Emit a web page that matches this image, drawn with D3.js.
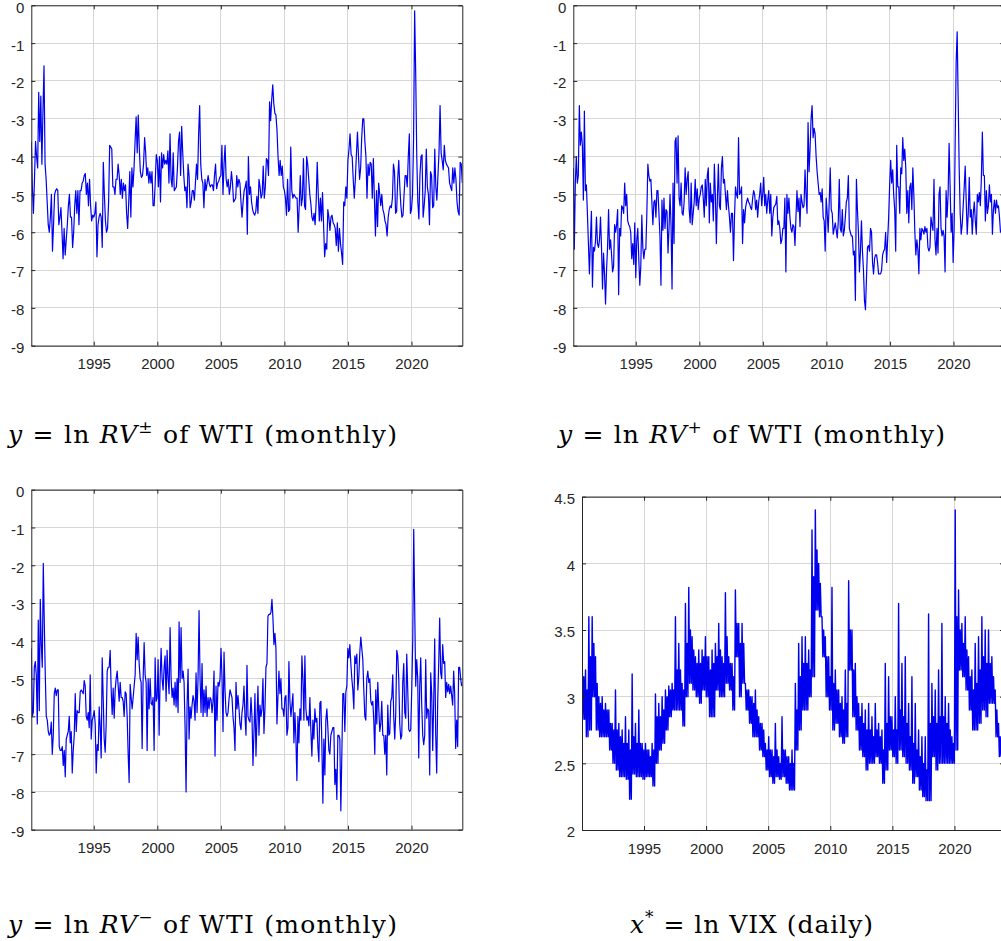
<!DOCTYPE html>
<html><head><meta charset="utf-8">
<script src="https://cdn.jsdelivr.net/npm/d3@7"></script>
<style>body{margin:0;background:#fff;} svg{display:block;}</style>
</head><body><svg id="c" width="1001" height="941"></svg>
<script>
// ---------- tick labels ----------
const xTickYears = [1995, 2000, 2005, 2010, 2015, 2020];
const yTicksWTI = [0, -1, -2, -3, -4, -5, -6, -7, -8, -9];
const yTicksVIX = [2, 2.5, 3, 3.5, 4, 4.5];

// ---------- ln RV± of WTI (monthly, Jan 1990 .. Dec 2023) ----------
const rvAll = [
 -3.6,-4.8,-5.5,-4.6,-3.6,-4.0,-4.3,-2.3,-3.6,-2.4,-4.2,-2.8,
 -1.6,-4.2,-4.6,-5.2,-5.8,-6.0,-5.6,-5.0,-6.5,-5.8,-5.0,-4.9,
 -4.85,-4.9,-5.8,-5.6,-5.35,-6.0,-6.7,-5.9,-6.6,-6.2,-5.8,-5.3,
 -5.0,-5.6,-5.6,-6.4,-6.0,-5.3,-4.9,-5.5,-4.9,-5.8,-4.9,-4.9,
 -4.7,-4.65,-4.5,-4.45,-5.0,-4.7,-5.3,-4.6,-5.3,-5.7,-5.55,-5.6,
 -5.5,-5.2,-6.65,-5.8,-5.6,-5.5,-5.6,-6.4,-4.15,-5.0,-5.7,-6.0,
 -5.9,-5.2,-3.7,-3.75,-3.8,-4.8,-4.8,-5.0,-4.6,-4.6,-4.2,-4.5,
 -5.0,-4.6,-5.1,-4.7,-4.9,-4.75,-5.5,-5.9,-5.2,-4.4,-5.6,-4.3,
 -4.8,-4.3,-3.6,-2.95,-3.9,-2.9,-3.8,-4.4,-4.55,-4.5,-4.2,-3.5,
 -3.9,-4.5,-4.3,-4.7,-4.4,-4.7,-4.4,-5.3,-5.3,-4.7,-3.95,-4.1,
 -4.8,-4.0,-5.2,-3.9,-4.3,-3.95,-4.2,-4.1,-4.2,-3.85,-4.7,-3.4,
 -4.6,-4.8,-3.9,-4.9,-4.85,-4.8,-4.3,-3.6,-3.35,-4.5,-3.2,-3.9,
 -4.5,-4.9,-4.8,-5.35,-4.2,-4.5,-5.35,-5.2,-4.9,-4.9,-5.15,-4.7,
 -4.2,-4.6,-3.4,-2.65,-4.2,-4.6,-4.7,-5.35,-4.6,-4.9,-4.7,-4.5,
 -4.7,-4.8,-4.75,-4.75,-4.9,-4.5,-4.2,-4.85,-4.7,-4.65,-4.55,-4.5,
 -3.7,-5.0,-4.2,-3.7,-4.6,-4.8,-4.6,-5.0,-4.8,-4.4,-4.7,-5.2,
 -5.15,-5.1,-4.5,-4.8,-4.6,-4.7,-5.2,-5.6,-5.2,-4.9,-4.8,-4.65,
 -6.05,-4.0,-5.0,-4.8,-5.2,-5.4,-5.5,-5.55,-5.45,-5.05,-5.5,-4.6,
 -4.8,-5.1,-5.0,-4.25,-5.1,-4.8,-4.05,-4.1,-4.5,-2.55,-3.05,-2.5,
 -2.1,-2.6,-2.85,-2.9,-3.3,-4.0,-4.5,-4.1,-4.5,-4.25,-4.8,-4.9,
 -5.1,-5.55,-4.6,-5.45,-5.4,-3.75,-4.9,-5.1,-5.0,-5.05,-5.1,-5.1,
 -6.0,-5.3,-4.5,-5.3,-5.1,-4.05,-5.3,-5.4,-4.0,-4.2,-4.6,-5.0,
 -5.25,-5.6,-5.7,-5.5,-5.8,-5.2,-4.15,-5.0,-5.7,-5.1,-5.7,-4.95,
 -5.8,-6.65,-6.3,-6.45,-5.4,-5.6,-5.95,-5.6,-5.55,-5.75,-5.8,-5.9,
 -6.35,-5.75,-6.5,-5.9,-6.3,-6.55,-6.85,-5.2,-5.3,-4.8,-5.1,-4.1,
 -3.8,-3.4,-3.95,-4.0,-4.6,-5.1,-4.6,-3.95,-3.35,-4.0,-4.6,-4.3,
 -3.5,-3.0,-3.0,-3.6,-4.0,-5.1,-4.2,-4.5,-4.15,-4.2,-5.1,-4.05,
 -5.1,-6.1,-4.9,-5.85,-4.7,-5.0,-5.3,-5.0,-5.4,-5.5,-5.7,-5.8,
 -6.1,-5.6,-5.4,-5.3,-5.35,-5.1,-4.2,-4.4,-5.5,-5.45,-4.6,-4.1,
 -4.8,-5.3,-5.6,-5.55,-5.0,-4.5,-4.5,-4.8,-4.0,-3.4,-5.5,-5.4,
 -5.0,-3.5,-0.15,-1.8,-4.0,-5.2,-5.65,-4.5,-4.0,-3.95,-5.6,-5.3,
 -4.9,-3.8,-4.8,-5.0,-5.8,-4.4,-4.5,-5.35,-5.3,-3.8,-4.8,-5.15,
 -4.5,-3.9,-2.65,-3.9,-4.1,-4.35,-3.7,-4.1,-4.2,-4.25,-4.3,-4.7,
 -4.8,-4.9,-4.3,-4.7,-4.3,-4.6,-5.2,-5.45,-5.55,-4.15,-4.2,-4.7
];

// ---------- ln RV+ of WTI (readings, Jan 1990 .. ~Sep 2023) ----------
const rvPos = [
 -4.3,-6.45,-4.7,-4.0,-4.7,-4.5,-2.65,-3.7,-3.35,-3.7,-5.15,-2.8,-4.9,-4.75,-5.5,-6.3,-7.1,-6.2,-5.45,-7.45,
 -6.4,-6.5,-6.25,-5.6,-6.3,-6.4,-6.2,-5.6,-6.4,-7.5,-6.55,-7.1,-7.9,-7.0,-6.4,-5.4,-6.45,-6.2,-6.6,-7.05,
 -6.9,-5.8,-6.0,-5.8,-5.4,-7.65,-5.9,-6.1,-5.3,-5.35,-5.5,-4.7,-5.3,-5.0,-5.7,-5.8,-5.85,-6.0,-6.7,-6.3,
 -6.85,-5.75,-7.2,-6.2,-5.9,-6.7,-7.4,-6.9,-5.55,-6.4,-6.7,-6.45,-6.45,-5.5,-4.2,-4.5,-4.65,-4.6,-5.2,-5.8,
 -5.2,-5.15,-5.6,-4.9,-4.9,-5.5,-6.1,-7.4,-5.15,-5.95,-5.1,-5.9,-5.4,-5.45,-6.55,-5.9,-5.0,-5.8,-7.5,-4.7,
 -6.3,-3.6,-3.5,-4.7,-3.45,-5.1,-5.3,-4.7,-5.5,-5.55,-5.2,-4.3,-5.0,-4.6,-4.4,-5.4,-5.75,-4.7,-5.8,-5.5,
 -5.2,-4.6,-5.3,-4.85,-5.4,-5.1,-5.0,-4.8,-4.75,-5.1,-5.6,-4.6,-5.3,-4.5,-4.3,-5.75,-4.7,-5.2,-5.0,-5.7,
 -4.2,-5.0,-6.3,-5.1,-4.2,-5.3,-5.4,-4.3,-4.0,-4.7,-4.6,-5.0,-5.4,-4.9,-5.3,-5.6,-6.0,-5.5,-5.5,-6.75,
 -5.6,-4.8,-5.0,-5.1,-3.5,-5.0,-4.95,-4.8,-6.3,-5.4,-5.75,-5.35,-5.2,-5.1,-5.2,-5.25,-5.35,-5.4,-5.1,-4.9,
 -5.0,-5.4,-5.15,-5.6,-5.2,-5.0,-4.7,-5.3,-5.0,-4.55,-5.3,-5.0,-5.5,-5.15,-4.9,-5.5,-5.0,-6.1,-5.6,-5.35,
 -5.3,-5.25,-5.05,-5.8,-5.7,-5.9,-6.3,-6.2,-5.9,-5.9,-5.1,-7.05,-5.0,-5.5,-5.1,-5.6,-5.9,-6.0,-5.8,-5.85,
 -6.35,-5.6,-4.9,-5.45,-5.1,-5.85,-5.0,-5.2,-5.35,-5.3,-4.35,-5.0,-5.5,-3.1,-4.4,-3.8,-3.0,-2.65,-3.5,-3.25,
 -3.4,-4.0,-4.4,-4.7,-5.0,-4.95,-5.2,-4.85,-5.6,-5.7,-6.5,-5.1,-5.5,-6.0,-5.2,-4.3,-5.4,-5.5,-6.05,-5.9,
 -5.75,-5.95,-6.15,-5.7,-4.6,-5.9,-6.0,-5.4,-6.1,-5.95,-5.6,-5.2,-5.1,-4.5,-5.9,-6.0,-6.1,-6.1,-6.6,-6.5,
 -7.8,-4.6,-5.4,-6.0,-7.05,-6.5,-5.7,-6.5,-7.0,-7.8,-8.05,-7.2,-6.4,-6.35,-6.5,-5.9,-6.0,-6.8,-7.1,-6.7,
 -6.6,-6.6,-6.8,-7.1,-7.1,-7.1,-7.0,-6.6,-6.5,-6.45,-6.0,-6.8,-6.2,-5.6,-4.75,-4.1,-4.7,-4.35,-5.0,-5.4,
 -6.5,-3.7,-4.8,-4.8,-5.5,-4.3,-4.45,-3.5,-4.1,-3.8,-4.3,-5.5,-4.9,-5.75,-4.8,-4.7,-5.4,-4.3,-5.0,-6.0,
 -6.6,-6.2,-6.45,-7.1,-5.9,-6.2,-5.9,-5.95,-6.05,-5.85,-6.0,-5.9,-6.4,-6.5,-6.4,-5.6,-5.8,-5.95,-4.6,-6.2,
 -6.6,-5.9,-6.55,-5.0,-4.8,-5.9,-6.1,-5.95,-6.1,-7.05,-4.9,-5.6,-5.0,-3.65,-4.8,-6.0,-5.5,-6.8,-5.9,-3.7,
 -1.5,-0.7,-2.5,-4.3,-5.5,-6.05,-5.8,-5.3,-4.8,-4.25,-5.2,-6.05,-5.5,-4.55,-5.6,-5.4,-6.05,-5.5,-5.2,-5.7,
 -6.05,-5.0,-5.2,-4.95,-5.3,-4.6,-3.35,-4.5,-4.5,-5.7,-4.9,-5.5,-5.3,-4.75,-5.2,-5.0,-6.05,-5.4,-5.15,-5.5,
 -5.15,-5.35,-5.3,-5.6,-6.0
];

// ---------- ln RV- of WTI (readings, Jan 1990 .. Dec 2023) ----------
const rvNeg = [
 -4.2,-6.0,-5.9,-4.7,-4.55,-4.9,-6.2,-3.45,-5.85,-2.9,-4.1,-4.7,-1.95,-3.5,-4.9,-6.0,-6.1,-6.4,-6.5,-6.45,
 -6.15,-7.0,-6.5,-5.4,-5.25,-5.45,-5.3,-5.3,-6.8,-6.9,-6.9,-6.8,-7.3,-6.9,-7.6,-6.6,-6.5,-6.4,-6.0,-6.7,
 -6.4,-7.5,-6.9,-6.5,-5.4,-6.4,-5.85,-5.9,-5.9,-5.35,-5.3,-5.35,-5.4,-5.05,-5.2,-6.0,-6.1,-5.9,-6.3,-4.9,
 -6.6,-6.1,-6.0,-5.85,-6.2,-7.5,-6.75,-6.9,-5.75,-6.3,-7.1,-4.45,-5.5,-6.6,-6.95,-6.2,-4.8,-4.7,-4.7,-4.25,
 -5.3,-5.95,-5.25,-6.05,-5.3,-5.0,-4.8,-5.2,-5.6,-5.1,-5.5,-5.5,-5.6,-6.0,-5.35,-5.4,-6.0,-7.0,-7.75,-5.15,
 -5.5,-5.8,-5.5,-5.2,-4.9,-3.8,-4.5,-3.9,-4.6,-5.0,-5.1,-6.85,-5.0,-4.05,-4.9,-5.1,-6.9,-5.0,-5.8,-5.0,
 -5.65,-5.7,-5.5,-6.9,-4.45,-5.6,-5.5,-4.5,-6.5,-5.0,-4.2,-5.0,-5.3,-4.7,-4.4,-5.6,-4.25,-5.0,-5.4,-3.65,
 -5.0,-5.5,-5.25,-5.7,-5.1,-5.75,-5.0,-5.9,-3.5,-5.1,-3.65,-5.0,-4.8,-5.1,-6.3,-8.0,-5.7,-4.75,-6.6,-5.75,
 -6.05,-5.7,-5.45,-5.6,-6.1,-4.85,-5.9,-5.0,-3.2,-5.0,-5.9,-4.6,-6.0,-5.3,-5.9,-5.2,-6.0,-5.5,-5.8,-5.5,
 -5.55,-5.9,-5.6,-4.8,-7.05,-5.2,-6.1,-5.1,-5.2,-5.0,-4.2,-5.0,-6.4,-4.3,-5.3,-5.9,-6.0,-5.9,-5.55,-5.3,
 -5.4,-5.5,-6.0,-6.3,-6.9,-5.1,-5.8,-5.45,-5.8,-6.2,-6.35,-5.9,-5.7,-5.2,-6.0,-6.5,-4.65,-6.0,-6.1,-6.15,
 -5.5,-6.0,-7.3,-6.4,-5.4,-7.05,-6.1,-5.2,-6.5,-5.7,-6.0,-5.8,-5.0,-6.45,-5.8,-4.7,-4.6,-3.35,-3.3,-3.3,
 -3.25,-2.9,-3.4,-4.1,-3.8,-4.2,-6.2,-5.5,-4.8,-5.4,-5.0,-5.8,-5.8,-6.0,-5.5,-5.45,-6.5,-6.3,-4.55,-5.6,
 -6.0,-5.7,-5.4,-6.7,-5.9,-6.6,-7.7,-6.0,-6.7,-5.8,-6.1,-4.4,-5.0,-6.1,-4.4,-5.8,-6.1,-6.0,-6.25,-5.5,
 -6.4,-7.05,-6.1,-6.6,-5.8,-6.15,-6.05,-6.8,-7.2,-5.65,-5.6,-6.75,-8.3,-6.6,-7.55,-6.1,-5.8,-6.3,-6.9,-7.0,
 -6.5,-6.4,-6.3,-6.3,-7.8,-7.4,-8.2,-6.5,-6.5,-6.6,-8.5,-7.0,-5.4,-5.4,-6.4,-5.35,-5.2,-4.2,-4.45,-4.1,
 -4.6,-5.0,-5.3,-5.8,-4.4,-4.6,-4.35,-5.3,-4.95,-4.3,-3.9,-4.2,-4.5,-5.3,-6.0,-6.1,-5.0,-4.8,-5.1,-5.0,
 -5.6,-5.7,-5.6,-6.1,-7.0,-5.3,-6.2,-5.1,-5.8,-6.4,-6.2,-5.6,-6.5,-6.5,-7.0,-6.5,-7.55,-5.7,-6.5,-6.45,
 -5.6,-5.5,-4.9,-6.05,-6.6,-5.9,-4.25,-4.4,-5.0,-6.2,-6.6,-6.5,-5.1,-4.6,-5.9,-6.05,-4.35,-5.3,-6.35,-6.4,
 -6.35,-5.3,-4.0,-1.05,-3.2,-5.2,-4.5,-5.0,-7.1,-5.2,-4.45,-5.7,-6.5,-6.75,-6.5,-4.5,-6.05,-5.8,-5.85,-7.55,
 -4.85,-5.4,-6.9,-5.6,-3.95,-6.5,-7.5,-5.6,-4.6,-3.4,-4.85,-5.0,-4.1,-4.6,-4.55,-5.5,-5.1,-5.35,-5.15,-5.4,
 -5.2,-5.45,-5.7,-4.8,-5.4,-6.85,-6.1,-6.8,-4.7,-4.7,-5.0,-5.2
];

// ---------- ln VIX (daily), read per bin: spike high, upper edge of the dense core, low ----------
const vixHigh = [
 3.28,3.2,3.6,3.6,3.3,3.0,3.0,2.95,2.9,2.8,3.05,2.8,2.75,2.85,2.75,3.17,2.8,2.9,2.65,2.65,
 2.6,2.65,3.02,2.95,3.0,3.05,3.08,3.1,3.6,3.4,3.1,3.7,3.82,3.45,3.3,3.35,3.35,3.45,3.3,3.35,
 3.4,3.55,3.3,3.78,3.3,3.25,3.8,3.55,3.55,3.1,3.05,3.0,3.05,2.85,2.8,2.65,2.7,2.6,2.8,2.55,
 2.85,2.6,2.55,2.6,3.1,3.4,3.45,3.45,3.35,4.25,4.4,4.0,3.6,3.45,3.3,3.82,3.2,3.05,3.0,3.2,
 3.87,3.5,3.25,2.95,2.95,2.9,2.95,2.85,2.95,2.8,2.75,3.25,3.15,2.85,3.0,3.7,3.25,3.3,2.95,3.15,
 2.95,2.75,2.7,2.7,3.62,3.1,3.05,3.2,3.55,3.0,2.95,2.7,4.4,3.8,3.55,3.6,3.3,3.2,3.4,3.45,
 3.6,3.5,3.5,3.3,3.05,2.8
];
const vixCore = [
 3.15,3.05,3.3,3.4,3.1,2.95,2.9,2.9,2.8,2.75,2.75,2.7,2.65,2.65,2.6,2.7,2.65,2.65,2.6,2.6,
 2.55,2.6,2.85,2.85,2.9,3.0,3.05,3.05,3.2,3.2,3.05,3.4,3.5,3.35,3.25,3.25,3.3,3.3,3.2,3.25,
 3.3,3.35,3.25,3.45,3.25,3.15,3.55,3.4,3.4,3.05,3.0,2.95,2.9,2.8,2.75,2.6,2.6,2.55,2.6,2.5,
 2.6,2.55,2.5,2.5,2.9,3.15,3.25,3.25,3.2,3.9,4.1,3.85,3.5,3.3,3.15,3.1,3.05,2.95,2.9,2.95,
 3.5,3.2,3.0,2.85,2.8,2.75,2.75,2.7,2.75,2.7,2.6,2.8,2.85,2.75,2.75,2.9,2.85,2.8,2.7,2.65,
 2.6,2.55,2.5,2.45,2.8,2.85,2.8,2.85,2.85,2.8,2.75,2.65,3.6,3.5,3.4,3.35,3.15,3.05,3.1,3.2,
 3.3,3.25,3.25,3.15,2.9,2.7
];
const vixLow = [
 2.83,2.7,2.75,3.0,2.75,2.7,2.7,2.7,2.6,2.5,2.45,2.4,2.4,2.38,2.23,2.42,2.4,2.4,2.38,2.4,
 2.4,2.33,2.5,2.6,2.65,2.75,2.85,2.9,2.9,2.9,2.78,3.0,3.1,3.05,3.0,2.95,3.05,3.0,2.85,2.85,
 3.05,3.0,3.0,3.1,3.05,2.9,3.3,3.0,3.1,2.9,2.8,2.7,2.7,2.6,2.55,2.45,2.4,2.35,2.4,2.38,
 2.4,2.35,2.3,2.3,2.6,2.75,2.9,2.9,3.0,3.15,3.65,3.6,3.3,3.0,2.9,2.75,2.8,2.7,2.65,2.7,
 3.2,2.85,2.75,2.6,2.55,2.45,2.5,2.5,2.55,2.5,2.35,2.45,2.6,2.55,2.5,2.6,2.55,2.5,2.45,2.35,
 2.4,2.3,2.25,2.22,2.22,2.55,2.45,2.5,2.5,2.5,2.5,2.5,2.6,3.2,3.15,3.05,2.9,2.75,2.75,2.8,
 2.9,2.85,2.95,2.95,2.7,2.55
];

// ---------- drawing ----------
const svg = d3.select('#c');
const axisColor = '#262626';
const gridColor = '#d6d6d6';
const lineColor = '#0000f0';
const sansFont = "'Liberation Sans', Arial, Helvetica, sans-serif";
const serifFont = "'DejaVu Serif', serif";

function spread(values, t0, t1) {
  const n = values.length;
  return values.map((v, i) => [t0 + i * (t1 - t0) / (n - 1), v]);
}

function panel(o, id) {
  const x = d3.scaleLinear().domain(o.xDomain).range([o.left, o.right]);
  const y = d3.scaleLinear().domain(o.yDomain).range([o.bottom, o.top]);
  const g = svg.append('g');
  g.selectAll(null).data(xTickYears).join('line')
    .attr('x1', d => x(d)).attr('x2', d => x(d))
    .attr('y1', o.top).attr('y2', o.bottom)
    .attr('stroke', gridColor).attr('stroke-width', 1).attr('shape-rendering', 'crispEdges');
  g.selectAll(null).data(o.yTicks).join('line')
    .attr('x1', o.left).attr('x2', o.right)
    .attr('y1', d => y(d)).attr('y2', d => y(d))
    .attr('stroke', gridColor).attr('stroke-width', 1).attr('shape-rendering', 'crispEdges');
  svg.append('clipPath').attr('id', 'clip' + id).append('rect')
    .attr('x', o.left).attr('y', o.top).attr('width', o.right - o.left).attr('height', o.bottom - o.top);
  g.append('path').datum(o.data)
    .attr('clip-path', 'url(#clip' + id + ')')
    .attr('fill', 'none').attr('stroke', lineColor).attr('stroke-width', o.lw || 1.2)
    .attr('stroke-linejoin', 'round')
    .attr('d', d3.line().x(d => x(d[0])).y(d => y(d[1])));
  const fmt = d => String(d);
  const styleAx = sel => {
    sel.selectAll('path').attr('stroke', axisColor).attr('stroke-width', 1);
    sel.selectAll('line').attr('stroke', axisColor);
    sel.selectAll('text').attr('fill', axisColor).style('font-family', sansFont).style('font-size', '15px');
  };
  g.append('g').attr('transform', `translate(0,${o.bottom})`)
    .call(d3.axisBottom(x).tickValues(xTickYears).tickFormat(fmt).tickSize(-4).tickSizeOuter(0).tickPadding(13))
    .call(styleAx);
  g.append('g').attr('transform', `translate(0,${o.top})`)
    .call(d3.axisTop(x).tickValues(xTickYears).tickFormat('').tickSize(-4).tickSizeOuter(0))
    .call(styleAx);
  g.append('g').attr('transform', `translate(${o.left},0)`)
    .call(d3.axisLeft(y).tickValues(o.yTicks).tickFormat(fmt).tickSize(-4).tickSizeOuter(0).tickPadding(7))
    .call(styleAx)
    .selectAll('text').attr('dy', '0.46em');
  g.append('g').attr('transform', `translate(${o.right},0)`)
    .call(d3.axisRight(y).tickValues(o.yTicks).tickFormat('').tickSize(-4).tickSizeOuter(0))
    .call(styleAx);
}

const monthlyDomain = [1990 + 1 / 12, 2024];

panel({ left: 31.3, right: 462.3, top: 5.3, bottom: 345.7, xDomain: monthlyDomain, yDomain: [-9, 0],
  yTicks: yTicksWTI, data: spread(rvAll, 1990 + 1 / 12, 2024) }, 1);
panel({ left: 573.3, right: 1004.3, top: 5.3, bottom: 345.7, xDomain: monthlyDomain, yDomain: [-9, 0],
  yTicks: yTicksWTI, data: spread(rvPos, 1990 + 1 / 12, 2023.7) }, 2);
panel({ left: 31.3, right: 462.3, top: 489.7, bottom: 829.7, xDomain: monthlyDomain, yDomain: [-9, 0],
  yTicks: yTicksWTI, data: spread(rvNeg, 1990 + 1 / 12, 2023.95) }, 3);

// each bin is traced high -> low -> core -> low, as a dense daily series would fill it
const vixSeq = [];
vixHigh.forEach((h, i) => { vixSeq.push(h, vixLow[i], vixCore[i], vixLow[i]); });
panel({ left: 582, right: 1004, top: 496.7, bottom: 830, xDomain: [1990.005, 2023.99], yDomain: [2, 4.5],
  yTicks: yTicksVIX, data: spread(vixSeq, 1990.02, 2023.75), lw: 1.4 }, 4);

// ---------- titles ----------
function title(x, y, parts, len) {
  const t = svg.append('text').attr('x', x).attr('y', y)
    .style('font-family', serifFont).style('font-size', '25px').attr('fill', '#000');
  let shift = 0;
  parts.forEach(p => {
    const s = t.append('tspan').text(p.s);
    if (p.i) s.style('font-style', 'italic');
    if (p.sup) { s.attr('dy', -10).style('font-size', '17px'); shift = 10; }
    else if (shift) { s.attr('dy', shift); shift = 0; }
  });
  if (len) t.attr('textLength', len).attr('lengthAdjust', 'spacing');
}
title(8, 443, [{s:'y', i:1}, {s:' = ln '}, {s:'RV', i:1}, {s:'\u00B1', sup:1}, {s:' of WTI (monthly)'}], 389);
title(558, 443, [{s:'y', i:1}, {s:' = ln '}, {s:'RV', i:1}, {s:'+', sup:1}, {s:' of WTI (monthly)'}], 387);
title(8, 933, [{s:'y', i:1}, {s:' = ln '}, {s:'RV', i:1}, {s:'\u2212', sup:1}, {s:' of WTI (monthly)'}], 389);
title(630, 933, [{s:'x', i:1}, {s:'*', sup:1}, {s:' = ln VIX (daily)'}], 243);
</script></body></html>
